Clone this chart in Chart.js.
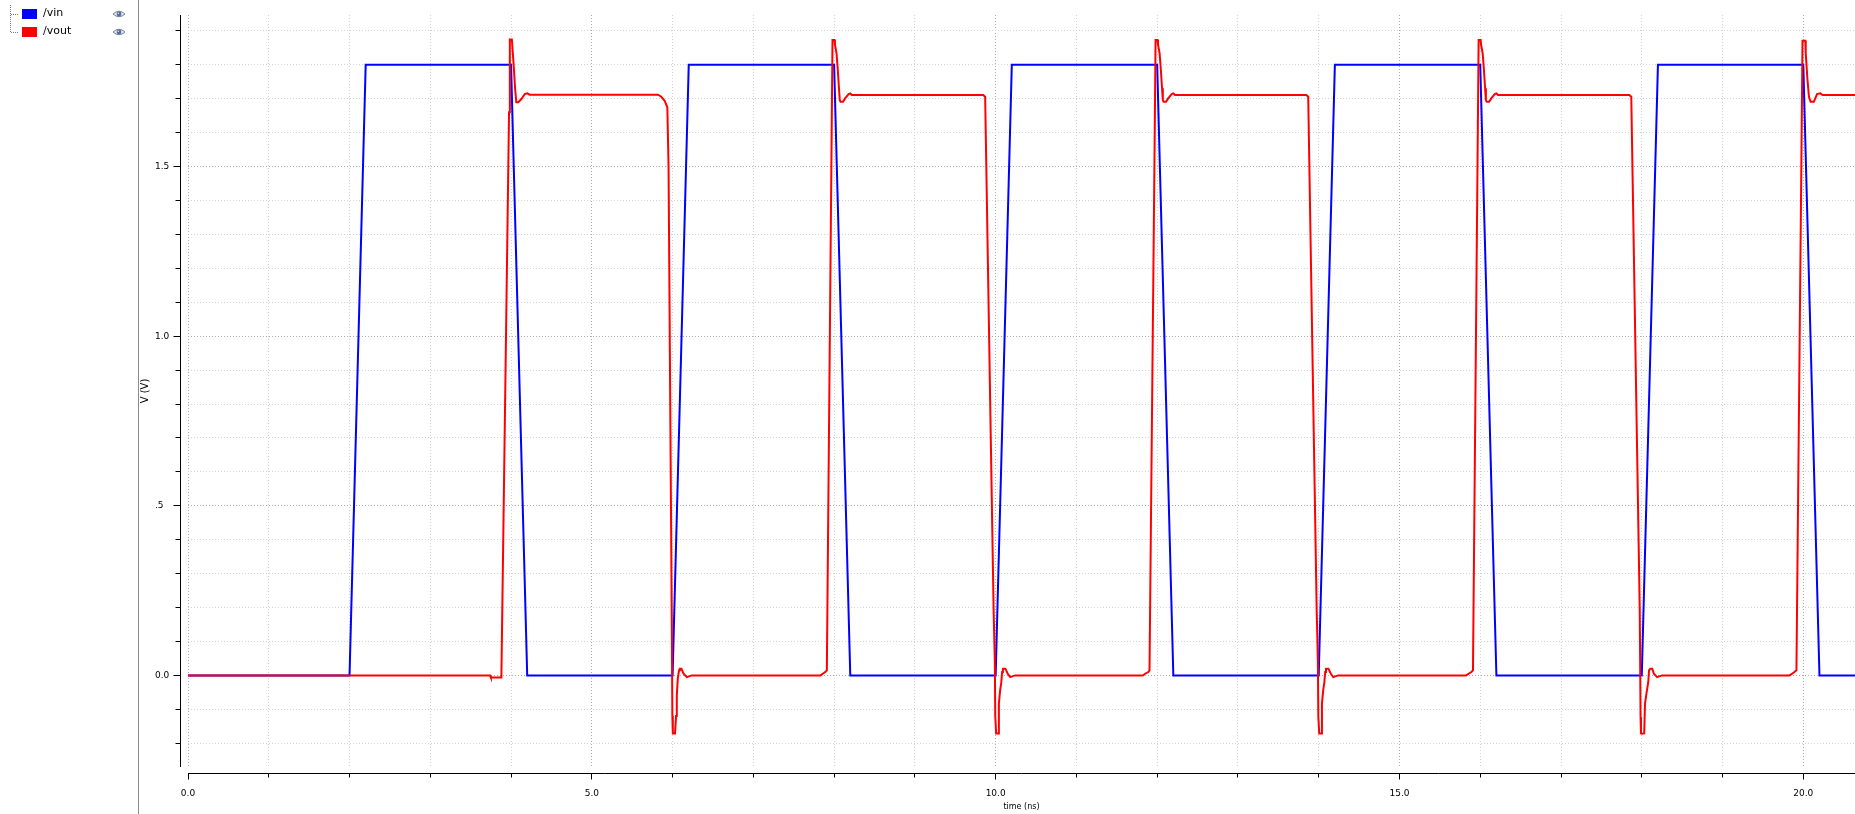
<!DOCTYPE html>
<html>
<head>
<meta charset="utf-8">
<script src="https://cdn.jsdelivr.net/npm/chart.js@4.4.1/dist/chart.umd.min.js"></script>
<style>
  body { margin: 0; background: #fff; }
  #wrap { position: relative; width: 1855px; height: 814px; overflow: hidden; }
  #plot { position: absolute; left: 0; top: 0; }
  #divider { position: absolute; left: 138px; top: 0; width: 1px; height: 814px; background: #8c8c8c; }
  .tree-v { position: absolute; left: 10px; top: 5px; height: 27px; border-left: 1px dotted #7a7a7a; }
  .tree-h { position: absolute; left: 11px; width: 7px; border-top: 1px dotted #7a7a7a; }
  .swatch { position: absolute; left: 22px; width: 15px; height: 10px; }
  .name { position: absolute; left: 43px; font: 11px "DejaVu Sans"; line-height: 12px; color: #000; }
  .eye { position: absolute; left: 112px; width: 14px; height: 10px; }
  .eye svg { display: block; }
</style>
</head>
<body>
<div id="wrap">
  <canvas id="plot" width="1855" height="814"></canvas>
  <div id="divider"></div>
  <div id="legend"></div>
</div>
<script>
// time axis (ns)
const xTicks = [0, 1, 2, 3, 4, 5, 6, 7, 8, 9, 10, 11, 12, 13, 14, 15, 16, 17, 18, 19, 20];
const xTickLabels = ['0.0', '', '', '', '', '5.0', '', '', '', '', '10.0', '', '', '', '', '15.0', '', '', '', '', '20.0'];

// voltage axis (V)
const yTicks = [-0.2, -0.1, 0.0, 0.1, 0.2, 0.3, 0.4, 0.5, 0.6, 0.7, 0.8, 0.9, 1.0, 1.1, 1.2, 1.3, 1.4, 1.5, 1.6, 1.7, 1.8, 1.9];
const yTickLabels = ['', '', '0.0', '', '', '', '', '.5', '', '', '', '', '1.0', '', '', '', '', '1.5', '', '', '', ''];

// /vin
const vinT = [0, 2.0, 2.2, 4.0, 4.2, 6.0, 6.2, 8.0, 8.2, 10.0, 10.2, 12.0, 12.2, 14.0, 14.2, 16.0, 16.2, 18.0, 18.2, 20.0, 20.2, 20.64];
const vinV = [0, 0, 1.8, 1.8, 0, 0, 1.8, 1.8, 0, 0, 1.8, 1.8, 0, 0, 1.8, 1.8, 0, 0, 1.8, 1.8, 0, 0];

// /vout
const voutT = [
  0.00, 3.74, 3.75, 3.88, 3.975, 3.985, 4.01, 4.02, 4.035, 4.05, 4.065, 4.09, 4.13, 4.17, 4.20, 4.23,
  5.82, 5.86, 5.90, 5.935, 5.95, 5.99, 5.997, 6.003, 6.03, 6.043, 6.052, 6.064, 6.08, 6.09, 6.11, 6.134, 6.176, 6.238,
  7.83, 7.86, 7.89, 7.91, 7.97, 7.98, 8.005, 8.01, 8.03, 8.045, 8.06, 8.07, 8.08, 8.11, 8.136, 8.18, 8.20, 8.22,
  9.845, 9.87, 9.975, 9.99, 9.995, 10.006, 10.03, 10.04, 10.055, 10.07, 10.08, 10.09, 10.12, 10.15, 10.18, 10.24,
  11.823, 11.85, 11.89, 11.905, 11.97, 11.98, 12.005, 12.01, 12.03, 12.045, 12.06, 12.07, 12.08, 12.11, 12.136, 12.18, 12.20, 12.22,
  13.845, 13.87, 13.975, 13.99, 13.995, 14.006, 14.03, 14.04, 14.055, 14.07, 14.08, 14.09, 14.12, 14.15, 14.18, 14.24,
  15.825, 15.855, 15.89, 15.91, 15.97, 15.98, 16.005, 16.01, 16.03, 16.045, 16.06, 16.07, 16.08, 16.11, 16.136, 16.18, 16.20, 16.22,
  17.845, 17.87, 17.975, 17.985, 17.99, 18.0, 18.03, 18.04, 18.06, 18.08, 18.09, 18.105, 18.13, 18.15, 18.19, 18.25,
  19.83, 19.86, 19.89, 19.915, 19.98, 19.99, 20.025, 20.03, 20.05, 20.07, 20.09, 20.13, 20.17, 20.21, 20.24, 20.64
];
const voutV = [
  0.000, 0.000, -0.006, -0.006, 1.66, 1.875, 1.875, 1.84, 1.79, 1.73, 1.69, 1.69, 1.70, 1.714, 1.716, 1.712,
  1.712, 1.706, 1.695, 1.675, 1.50, 0.16, -0.12, -0.171, -0.171, -0.12, -0.06, -0.01, 0.015, 0.02, 0.02, 0.006, -0.005, 0.000,
  0.000, 0.005, 0.010, 0.015, 1.61, 1.873, 1.873, 1.86, 1.834, 1.787, 1.731, 1.696, 1.691, 1.691, 1.701, 1.714, 1.716, 1.711,
  1.711, 1.706, 0.19, 0.04, -0.12, -0.171, -0.171, -0.083, -0.045, -0.02, 0.01, 0.02, 0.02, 0.005, -0.005, 0.000,
  0.000, 0.005, 0.010, 0.015, 1.61, 1.873, 1.873, 1.86, 1.834, 1.787, 1.731, 1.696, 1.691, 1.691, 1.701, 1.714, 1.716, 1.711,
  1.711, 1.706, 0.19, 0.04, -0.12, -0.171, -0.171, -0.083, -0.045, -0.02, 0.01, 0.02, 0.02, 0.005, -0.005, 0.000,
  0.000, 0.005, 0.010, 0.015, 1.61, 1.873, 1.873, 1.86, 1.834, 1.787, 1.731, 1.696, 1.691, 1.691, 1.701, 1.714, 1.716, 1.711,
  1.711, 1.706, 0.19, -0.123, -0.171, -0.172, -0.171, -0.083, -0.05, -0.02, 0.015, 0.02, 0.02, 0.005, -0.005, 0.000,
  0.000, 0.005, 0.010, 0.015, 1.61, 1.871, 1.871, 1.835, 1.76, 1.706, 1.691, 1.691, 1.714, 1.716, 1.711, 1.711
];

const seriesNames = ['/vin', '/vout'];
const seriesColors = ['#0000ff', '#ff0000'];

// legend panel on the left
const legend = document.getElementById('legend');
const eyeSvg = '<svg width="14" height="10" viewBox="0 0 14 10"><path d="M1 5 Q7 -0.5 13 5 Q7 10.5 1 5Z" fill="#e3e7f0" stroke="#7383a6" stroke-width="1"/><circle cx="7" cy="5" r="2.4" fill="#5c6d93"/><circle cx="6.3" cy="4.3" r="0.8" fill="#dfe5f2"/></svg>';
let html = '<div class="tree-v"></div>';
seriesNames.forEach((name, i) => {
  const cy = 14 + i * 18;
  html += `<div class="tree-h" style="top:${cy}px"></div>`;
  html += `<div class="swatch" style="top:${cy - 5}px;background:${seriesColors[i]}"></div>`;
  html += `<div class="name" style="top:${cy - 7}px">${name}</div>`;
  html += `<div class="eye" style="top:${cy - 5}px">${eyeSvg}</div>`;
});
legend.innerHTML = html;

const tickFont = { family: 'DejaVu Sans', size: 9 };

// axis lines sit a few pixels off the plot area, like the waveform viewer
const axesPlugin = {
  id: 'axes',
  afterDraw(chart) {
    const { ctx, chartArea: a, scales: { x, y } } = chart;
    const align = p => Math.round(p - 0.5) + 0.5;
    ctx.save();
    ctx.strokeStyle = '#000';
    ctx.lineWidth = 1;
    ctx.beginPath();
    const ax = a.left - 7.5;
    ctx.moveTo(ax, a.top);
    ctx.lineTo(ax, a.bottom);
    y.ticks.forEach((t, i) => {
      const py = align(y.getPixelForValue(t.value));
      const len = yTickLabels[i] ? 7 : 5;
      ctx.moveTo(ax - len, py);
      ctx.lineTo(ax, py);
    });
    const ay = a.bottom + 6.5;
    ctx.moveTo(a.left, ay);
    ctx.lineTo(a.right, ay);
    x.ticks.forEach((t, i) => {
      const px = align(x.getPixelForValue(t.value));
      const len = xTickLabels[i] ? 6 : 4;
      ctx.moveTo(px, ay);
      ctx.lineTo(px, ay + len);
    });
    ctx.stroke();

    ctx.translate(145, (a.top + a.bottom) / 2);
    ctx.rotate(-Math.PI / 2);
    ctx.font = '10px "DejaVu Sans"';
    ctx.fillStyle = '#000';
    ctx.textAlign = 'center';
    ctx.textBaseline = 'middle';
    ctx.fillText('V (V)', 0, 0);
    ctx.restore();
  }
};

new Chart(document.getElementById('plot'), {
  type: 'line',
  data: {
    datasets: [
      {
        label: seriesNames[0],
        data: vinT.map((t, i) => ({ x: t, y: vinV[i] })),
        borderColor: seriesColors[0],
        order: 2
      },
      {
        label: seriesNames[1],
        data: voutT.map((t, i) => ({ x: t, y: voutV[i] })),
        borderColor: seriesColors[1],
        order: 1
      }
    ]
  },
  options: {
    responsive: false,
    animation: false,
    devicePixelRatio: 1,
    layout: { padding: { left: 155, top: 15, right: 0, bottom: 0 } },
    elements: {
      line: { borderWidth: 2, tension: 0, fill: false },
      point: { radius: 0, hoverRadius: 0 }
    },
    plugins: {
      legend: { display: false },
      tooltip: { enabled: false }
    },
    events: [],
    scales: {
      x: {
        type: 'linear',
        min: 0,
        max: 20.64,
        afterBuildTicks: s => { s.ticks = xTicks.map(v => ({ value: v })); },
        afterFit: s => { s.height = 47; },
        ticks: {
          autoSkip: false,
          maxRotation: 0,
          padding: 0,
          color: '#000',
          font: tickFont,
          callback: (v, i) => xTickLabels[i]
        },
        grid: {
          color: c => (xTickLabels[c.index] ? '#a9a9a9' : '#d2d2d2'),
          lineWidth: 1,
          drawTicks: true,
          tickLength: 21,
          tickColor: 'rgba(0,0,0,0)'
        },
        border: { display: false, dash: [1, 2] },
        title: {
          display: true,
          text: 'time (ns)',
          color: '#000',
          font: { family: 'DejaVu Sans', size: 8 },
          padding: { top: 0, bottom: 2 }
        }
      },
      y: {
        type: 'linear',
        min: -0.27,
        max: 1.947,
        afterBuildTicks: s => { s.ticks = yTicks.map(v => ({ value: v })); },
        afterFit: s => { s.width = 33; },
        ticks: {
          autoSkip: false,
          crossAlign: 'far',
          padding: 0,
          color: '#000',
          font: tickFont,
          callback: (v, i) => yTickLabels[i]
        },
        grid: {
          color: c => (yTickLabels[c.index] ? '#a9a9a9' : '#d2d2d2'),
          lineWidth: 1,
          drawTicks: false
        },
        border: { display: false, dash: [1, 2] }
      }
    }
  },
  plugins: [axesPlugin]
});
</script>
</body>
</html>
